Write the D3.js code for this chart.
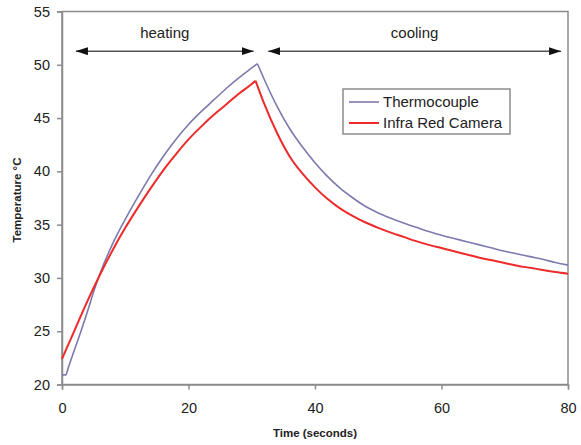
<!DOCTYPE html>
<html>
<head>
<meta charset="utf-8">
<script src="https://cdn.jsdelivr.net/npm/d3@7"></script>
<style>
  body { margin: 0; background: #fff; }
  text { font-family: "Liberation Sans", Arial, sans-serif; fill: #222; }
</style>
</head>
<body>
<div id="chart"></div>
<script>
// time (s) and temperature (°C)
let redTime = [0, 2, 4, 6, 8, 10, 12, 14, 16, 18, 20, 22, 24, 26, 28, 30, 30.6, 32, 34, 36, 38, 40, 42, 44, 46, 48, 50, 52, 54, 56, 58, 60, 62, 64, 66, 68, 70, 72, 74, 76, 78, 80]
let redTemp = [22.4, 25.1, 27.8, 30.3, 32.6, 34.7, 36.6, 38.4, 40.1, 41.6, 43.0, 44.2, 45.3, 46.3, 47.3, 48.2, 48.5, 46.3, 43.6, 41.4, 39.8, 38.5, 37.4, 36.5, 35.8, 35.2, 34.7, 34.25, 33.85, 33.45, 33.1, 32.8, 32.5, 32.2, 31.9, 31.65, 31.4, 31.15, 30.95, 30.75, 30.55, 30.4]
let redPeak = 16

let blueTime = [0, 0.6, 1, 2, 3, 4, 5, 6, 8, 10, 12, 14, 16, 18, 20, 22, 24, 26, 28, 30, 30.9, 32, 34, 36, 38, 40, 42, 44, 46, 48, 50, 52, 54, 56, 58, 60, 62, 64, 66, 68, 70, 72, 74, 76, 78, 80]
let blueTemp = [20.9, 20.9, 21.6, 23.3, 25.0, 26.8, 28.7, 30.4, 33.2, 35.5, 37.6, 39.6, 41.4, 43.0, 44.4, 45.6, 46.7, 47.8, 48.8, 49.7, 50.1, 48.6, 46.1, 44.0, 42.3, 40.8, 39.5, 38.4, 37.5, 36.7, 36.1, 35.6, 35.15, 34.75, 34.35, 34.0, 33.7, 33.4, 33.1, 32.8, 32.5, 32.25, 32.0, 31.75, 31.45, 31.2]
let bluePeak = 20

let seriesNames = ['Thermocouple', 'Infra Red Camera']
let xTicks = [0, 20, 40, 60, 80]
let yTicks = [20, 25, 30, 35, 40, 45, 50, 55]

let width = 581,
  height = 445,
  margin = { top: 11.5, right: 13, bottom: 60.5, left: 62 }

let x = d3.scaleLinear()
  .domain([0, 80])
  .range([margin.left, width - margin.right])

let y = d3.scaleLinear()
  .domain([20, 55])
  .range([height - margin.bottom, margin.top])

let colors = { blue: '#7c7aae', red: '#ee2a2a', axis: '#8c8c8c' }

let svg = d3.select('#chart').append('svg')
  .attr('width', width)
  .attr('height', height)

let defs = svg.append('defs')
defs.append('marker')
  .attr('id', 'head')
  .attr('viewBox', '0 0 12 8')
  .attr('refX', 12)
  .attr('refY', 4)
  .attr('markerWidth', 12)
  .attr('markerHeight', 8)
  .attr('markerUnits', 'userSpaceOnUse')
  .attr('orient', 'auto-start-reverse')
  .append('path')
  .attr('d', 'M0,0L12,4L0,8Z')
  .attr('fill', '#111')

// frame
svg.append('rect')
  .attr('x', x(0))
  .attr('y', y(55))
  .attr('width', x(80) - x(0))
  .attr('height', y(20) - y(55))
  .attr('fill', 'none')
  .attr('stroke', colors.axis)
  .attr('stroke-width', 1.5)

// axes
let yAxis = d3.axisLeft(y).tickValues(yTicks).tickSize(5).tickPadding(7)
let xAxis = d3.axisBottom(x).tickValues(xTicks).tickSize(5).tickPadding(13)

let gy = svg.append('g')
  .attr('transform', 'translate(' + x(0) + ',0)')
  .call(yAxis)
let gx = svg.append('g')
  .attr('transform', 'translate(0,' + y(20) + ')')
  .call(xAxis)

;[gx, gy].forEach(g => {
  g.select('.domain').attr('stroke', colors.axis).attr('stroke-width', 1.5)
  g.selectAll('.tick line').attr('stroke', colors.axis).attr('stroke-width', 1.5)
  g.selectAll('.tick text')
    .attr('font-family', '"Liberation Sans", Arial, sans-serif')
    .attr('font-size', 14.5)
    .attr('fill', '#222')
})

// lines: heating and cooling parts smoothed separately so the peak stays sharp
let line = d3.line()
  .x(d => x(d[0]))
  .y(d => y(d[1]))
  .curve(d3.curveMonotoneX)

function drawSeries(times, temps, peak, color, w) {
  let pts = times.map((t, i) => [t, temps[i]])
  let parts = [pts.slice(0, peak + 1), pts.slice(peak)]
  parts.forEach(p => {
    svg.append('path')
      .datum(p)
      .attr('d', line)
      .attr('fill', 'none')
      .attr('stroke', color)
      .attr('stroke-width', w)
      .attr('stroke-linejoin', 'round')
  })
}

drawSeries(blueTime, blueTemp, bluePeak, colors.blue, 1.6)
drawSeries(redTime, redTemp, redPeak, colors.red, 2)

// heating / cooling arrows
let arrows = [
  { label: 'heating', from: 2.2, to: 30.3 },
  { label: 'cooling', from: 32.6, to: 78.9 }
]
let arrowY = 51.28

arrows.forEach(a => {
  svg.append('line')
    .attr('x1', x(a.from))
    .attr('x2', x(a.to))
    .attr('y1', y(arrowY))
    .attr('y2', y(arrowY))
    .attr('stroke', '#555')
    .attr('stroke-width', 1.5)
    .attr('marker-start', 'url(#head)')
    .attr('marker-end', 'url(#head)')
  svg.append('text')
    .attr('x', (x(a.from) + x(a.to)) / 2)
    .attr('y', y(arrowY) - 13)
    .attr('text-anchor', 'middle')
    .attr('font-size', 15)
    .text(a.label)
})

// legend
let legend = svg.append('g').attr('transform', 'translate(343,89)')
legend.append('rect')
  .attr('width', 167)
  .attr('height', 45)
  .attr('fill', '#fff')
  .attr('stroke', colors.axis)
  .attr('stroke-width', 1.5)

let legendColors = [colors.blue, colors.red]
seriesNames.forEach((name, i) => {
  let ly = 13 + i * 21
  legend.append('line')
    .attr('x1', 6).attr('x2', 36)
    .attr('y1', ly).attr('y2', ly)
    .attr('stroke', legendColors[i])
    .attr('stroke-width', i ? 2 : 1.6)
  legend.append('text')
    .attr('x', 40)
    .attr('y', ly + 5)
    .attr('font-size', 15)
    .text(name)
})

// axis titles
svg.append('text')
  .attr('x', (x(0) + x(80)) / 2)
  .attr('y', 437)
  .attr('text-anchor', 'middle')
  .attr('font-size', 11.5)
  .attr('font-weight', 'bold')
  .text('Time (seconds)')

svg.append('text')
  .attr('transform', 'translate(21,200) rotate(-90)')
  .attr('text-anchor', 'middle')
  .attr('font-size', 11.5)
  .attr('font-weight', 'bold')
  .text('Temperature °C')
</script>
</body>
</html>
